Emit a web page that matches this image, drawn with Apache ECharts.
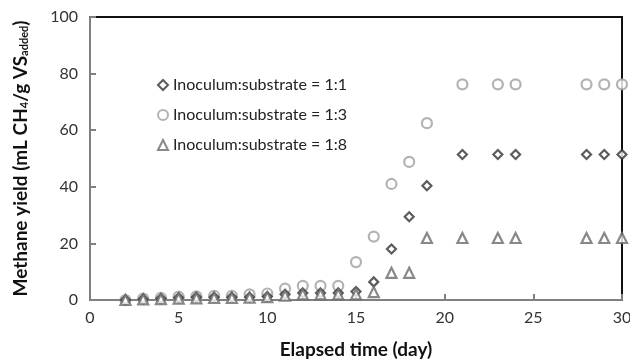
<!DOCTYPE html>
<html>
<head>
<meta charset="utf-8">
<script src="https://cdn.jsdelivr.net/npm/echarts@6/dist/echarts.min.js"></script>
<style>
  html, body { margin: 0; padding: 0; background: #fff; }
  #chart-container { width: 630px; height: 361px; }
</style>
</head>
<body>
<div id="chart-container"></div>
<script>
var days = [2, 3, 4, 5, 6, 7, 8, 9, 10, 11, 12, 13, 14, 15, 16, 17, 18, 19, 21, 23, 24, 28, 29, 30];
var ratio11 = [0, 0.3, 0.5, 0.8, 1, 1, 1, 1, 1.2, 2, 2.5, 2.5, 2.5, 3, 6.4, 18, 29.4, 40.4, 51.4, 51.4, 51.4, 51.4, 51.4, 51.4];
var ratio13 = [0, 0.5, 0.8, 1.2, 1.3, 1.5, 1.5, 2, 2.3, 4, 5, 5, 5, 13.4, 22.4, 41, 48.8, 62.5, 76.2, 76.2, 76.2, 76.2, 76.2, 76.2];
var ratio18 = [0, 0.2, 0.3, 0.5, 0.6, 0.7, 0.7, 0.8, 1, 1.5, 2, 2, 2, 2, 2.8, 9.6, 9.6, 21.9, 21.9, 21.9, 21.9, 21.9, 21.9, 21.9];
var seriesNames = ['Inoculum:substrate = 1:1', 'Inoculum:substrate = 1:3', 'Inoculum:substrate = 1:8'];
var yTicks = [0, 20, 40, 60, 80, 100];
var xTicks = [0, 5, 10, 15, 20, 25, 30];

function pairs(ys) {
  return days.map(function (d, i) { return [d, ys[i]]; });
}

var myChart = echarts.init(document.getElementById('chart-container'));
var font = 'Lato, "Open Sans", sans-serif';

var option = {
  animation: false,
  textStyle: { fontFamily: font },
  grid: {
    left: 90, right: 8, top: 17, bottom: 61,
    outerBoundsMode: 'none', containLabel: false,
    show: true, borderColor: '#111', borderWidth: 2, backgroundColor: '#fff'
  },
  legend: {
    orient: 'vertical',
    left: 152, top: 72,
    itemWidth: 10, itemHeight: 10, itemGap: 14,
    textStyle: { fontSize: 16, color: '#222', fontFamily: font },
    data: seriesNames
  },
  xAxis: {
    type: 'value', min: xTicks[0], max: xTicks[xTicks.length - 1], interval: 5,
    name: 'Elapsed time (day)', nameLocation: 'middle', nameGap: 40,
    nameTextStyle: { fontSize: 19, fontWeight: 'bold', color: '#111', fontFamily: font },
    axisLine: { onZero: false, lineStyle: { color: '#808080', width: 2 } },
    axisTick: { inside: true, length: 6, lineStyle: { color: '#808080', width: 2 } },
    axisLabel: { fontSize: 16, color: '#333', margin: 10 },
    splitLine: { show: false }
  },
  yAxis: {
    type: 'value', min: yTicks[0], max: yTicks[yTicks.length - 1], interval: 20,
    name: '{b|Methane yield (mL CH}{s|4}{b|/g VS}{s|added}{b|)}',
    nameLocation: 'middle', nameGap: 60, nameRotate: 90,
    nameTextStyle: {
      rich: {
        b: { fontSize: 19, fontWeight: 'bold', color: '#111', fontFamily: font, lineHeight: 22, verticalAlign: 'bottom' },
        s: { fontSize: 11, fontWeight: 'bold', color: '#111', fontFamily: font, lineHeight: 22, verticalAlign: 'bottom' }
      }
    },
    axisLine: { lineStyle: { color: '#808080', width: 2 } },
    axisTick: { inside: true, length: 6, lineStyle: { color: '#808080', width: 2 } },
    axisLabel: { fontSize: 16, color: '#333', margin: 12 },
    splitLine: { show: false }
  },
  series: [
    {
      name: seriesNames[0], type: 'scatter', symbol: 'diamond', symbolSize: 9, clip: false, z: 4,
      itemStyle: { color: '#fff', borderColor: '#333', borderWidth: 2.2 },
      data: pairs(ratio11)
    },
    {
      name: seriesNames[1], type: 'scatter', symbol: 'circle', symbolSize: 10, clip: false, z: 3,
      itemStyle: { color: '#fff', borderColor: '#a0a0a0', borderWidth: 2.2 },
      data: pairs(ratio13)
    },
    {
      name: seriesNames[2], type: 'scatter', symbol: 'triangle', symbolSize: 10, clip: false, z: 5,
      itemStyle: { color: '#fff', borderColor: '#6a6a6a', borderWidth: 2.2 },
      data: pairs(ratio18)
    }
  ]
};

option && myChart.setOption(option);
</script>
</body>
</html>
